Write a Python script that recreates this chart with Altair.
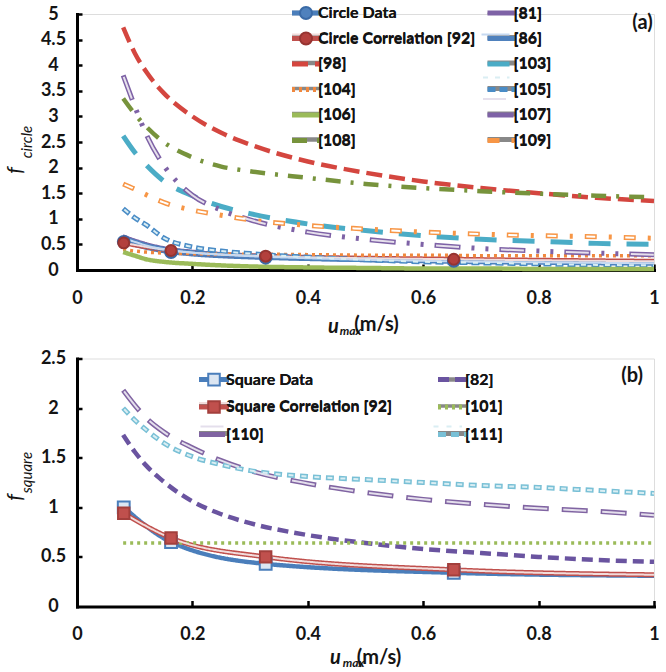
import altair as alt
import pandas as pd

FONT = "Lato"
INK = "#141414"

# ---------------- data ----------------
X_GRID = [0.08, 0.1, 0.12, 0.15, 0.2, 0.25, 0.3, 0.4, 0.5, 0.6, 0.7, 0.8, 0.9, 1.0]
X_EXP = [0.081, 0.163, 0.327, 0.653, 1.0]     # measured points (last = curve end, no marker)
N_MARKERS = 4

# panel (a)  f_circle
CIRCLE_DATA = [0.55, 0.35, 0.24, 0.18, 0.14]
CIRCLE_CORR = [0.53, 0.38, 0.27, 0.21, 0.17]
A_81 = [0.68, 0.60, 0.53, 0.45, 0.38, 0.33, 0.30, 0.26, 0.23, 0.21, 0.19, 0.18, 0.17, 0.16]
A_86 = [0.62, 0.55, 0.48, 0.41, 0.34, 0.30, 0.27, 0.23, 0.20, 0.18, 0.16, 0.15, 0.14, 0.13]
A_98 = [4.74, 4.24, 3.87, 3.46, 3.00, 2.68, 2.45, 2.12, 1.90, 1.73, 1.60, 1.50, 1.41, 1.35]
A_103 = [2.62, 2.30, 2.05, 1.74, 1.45, 1.24, 1.10, 0.90, 0.77, 0.67, 0.60, 0.56, 0.52, 0.50]
A_104 = [0.40, 0.37, 0.35, 0.33, 0.32, 0.31, 0.31, 0.30, 0.29, 0.29, 0.28, 0.28, 0.28, 0.28]
A_105 = [1.20, 1.02, 0.88, 0.63, 0.45, 0.37, 0.32, 0.25, 0.20, 0.16, 0.14, 0.12, 0.10, 0.09]
A_106 = [0.35, 0.28, 0.21, 0.16, 0.12, 0.09, 0.07, 0.05, 0.04, 0.03, 0.03, 0.02, 0.02, 0.02]
A_107 = [3.80, 3.20, 2.65, 2.05, 1.46, 1.17, 0.98, 0.74, 0.60, 0.50, 0.42, 0.37, 0.33, 0.30]
A_108 = [3.35, 3.05, 2.80, 2.50, 2.20, 2.02, 1.93, 1.80, 1.68, 1.60, 1.54, 1.49, 1.45, 1.42]
A_109 = [1.68, 1.58, 1.47, 1.32, 1.17, 1.07, 0.98, 0.87, 0.80, 0.74, 0.70, 0.67, 0.65, 0.62]

# panel (b)  f_square
SQUARE_DATA = [1.00, 0.65, 0.43, 0.34, 0.31]
SQUARE_CORR = [0.94, 0.69, 0.50, 0.37, 0.32]
B_82 = [1.73, 1.56, 1.42, 1.26, 1.06, 0.93, 0.84, 0.72, 0.64, 0.58, 0.54, 0.50, 0.47, 0.45]
B_101 = [0.64, 0.64, 0.64, 0.64, 0.64, 0.64, 0.64, 0.64, 0.64, 0.64, 0.64, 0.64, 0.64, 0.64]
B_110 = [2.18, 2.03, 1.90, 1.76, 1.60, 1.47, 1.37, 1.24, 1.15, 1.08, 1.03, 0.99, 0.96, 0.92]
B_111 = [2.00, 1.88, 1.78, 1.65, 1.51, 1.43, 1.37, 1.31, 1.28, 1.25, 1.22, 1.20, 1.17, 1.14]

A_LABELS = ["Circle Data", "[81]", "Circle Correlation [92]", "[86]", "[98]", "[103]",
            "[104]", "[105]", "[106]", "[107]", "[108]", "[109]"]
B_LABELS = ["Square Data", "[82]", "Square Correlation [92]", "[101]", "[110]", "[111]"]

X_TICKS = [0, 0.2, 0.4, 0.6, 0.8, 1.0]
A_YTICKS = [0, 0.5, 1, 1.5, 2, 2.5, 3, 3.5, 4, 4.5, 5]
B_YTICKS = [0, 0.5, 1, 1.5, 2, 2.5]

# ---------------- styles ----------------
STYLE = {
    "Circle Data":             {"color": "#4A7EBB", "w": 4.5, "dash": [1, 0]},
    "[81]":                    {"color": "#7E62A6", "w": 1.8, "dash": [1, 0]},
    "Circle Correlation [92]": {"color": "#C0504D", "w": 5.0, "dash": [1, 0]},
    "[86]":                    {"color": "#4F81BD", "w": 5.0, "dash": [1, 0]},
    "[98]":                    {"color": "#D4463F", "w": 4.5, "dash": [16, 7]},
    "[103]":                   {"color": "#4BACC6", "w": 5.0, "dash": [22, 16]},
    "[104]":                   {"color": "#F0883E", "w": 3.5, "dash": [3, 4]},
    "[105]":                   {"color": "#4A8CC6", "w": 5.0, "dash": [8, 4]},
    "[106]":                   {"color": "#9BBB59", "w": 4.5, "dash": [1, 0]},
    "[107]":                   {"color": "#7E62A6", "w": 5.0, "dash": [26, 11, 3, 11, 3, 11]},
    "[108]":                   {"color": "#77933C", "w": 4.5, "dash": [15, 10, 3, 10]},
    "[109]":                   {"color": "#F79646", "w": 5.0, "dash": [12, 12, 3, 12]},
    "Square Data":             {"color": "#4A7EBB", "w": 4.5, "dash": [1, 0]},
    "[82]":                    {"color": "#6A54A0", "w": 4.5, "dash": [11, 6]},
    "Square Correlation [92]": {"color": "#C0504D", "w": 5.0, "dash": [1, 0]},
    "[101]":                   {"color": "#9BBB59", "w": 3.5, "dash": [3, 4]},
    "[110]":                   {"color": "#8064A2", "w": 5.0, "dash": [26, 13]},
    "[111]":                   {"color": "#79C0D6", "w": 5.0, "dash": [8, 5]},
}
INNER = {
    "Circle Correlation [92]": "#F2DCDB",
    "[86]": "#C6D9F1",
    "[105]": "#DAEEF3",
    "[107]": "#E6E0EC",
    "[109]": "#FFFFFF",
    "Square Correlation [92]": "#F2DCDB",
    "[110]": "#E4DFEC",
    "[111]": "#DAEEF3",
}
IW = 2.0
INSET = (5.0 - IW) / 2
MARKERS = {
    "Circle Data": {"shape": "circle", "size": 140, "fill": "#4F81BD", "stroke": "#3A6AA6"},
    "Circle Correlation [92]": {"shape": "circle", "size": 120, "fill": "#B3403D", "stroke": "#963431"},
    "Square Data": {"shape": "square", "size": 140, "fill": "#DCE6F2", "stroke": "#4A7EBB"},
    "Square Correlation [92]": {"shape": "square", "size": 130, "fill": "#C0504D", "stroke": "#A33F3C"},
}
# legend glyphs (unit paths, scaled by sqrt(size)/2 = 5.5 px)
LEG_SIZE = 121
CIRCLE_PATH = "M1.09,0A1.09,1.09,0,1,1,-1.09,0A1.09,1.09,0,1,1,1.09,0Z"
SQUARE_PATH = "M-1.05,-1.05H1.05V1.05H-1.05Z"

W = 577


def line_path(length):
    h = round(length / 2 / 5.5, 3)
    return "M-%s,0H%s" % (h, h)


def inset_dash(dash, a):
    if dash == [1, 0]:
        return [1, 0]
    out = []
    for i in range(0, len(dash), 2):
        d, g = dash[i], dash[i + 1]
        d2 = max(d - 2 * a, 0)
        out += [round(d2, 2), round(d + g - d2, 2)]
    return out


def panel(P):
    labels = P["labels"]
    H = P["H"]
    curves = P["curves"]
    exp = P["exp"]

    rows = []
    for name in labels:
        if name in exp:
            xs_, ys_ = X_EXP, exp[name]
        else:
            xs_, ys_ = X_GRID, curves[name]
        for xv, yv in zip(xs_, ys_):
            rows.append({"series": name, "x": xv, "y": yv})
    df = pd.DataFrame(rows)

    prow = []
    for name in labels:
        if name in MARKERS:
            for xv, yv in zip(X_EXP[:N_MARKERS], exp[name][:N_MARKERS]):
                prow.append({"series": name, "x": xv, "y": yv})
    pts = pd.DataFrame(prow)

    xs = alt.Scale(domain=[0, 1], nice=False, zero=False)
    ys = alt.Scale(domain=[0, P["ymax"]], nice=False)

    x_main = alt.Axis(values=X_TICKS, format="~g", grid=False, ticks=False, tickSize=0,
                      domainColor="black", domainWidth=3, domainCap="square",
                      labelFont=FONT, labelFontSize=18, labelFontWeight="bold", labelColor=INK,
                      labelPadding=19, labelFlush=False, labelOverlap=False,
                      title="u", titleFont=FONT, titleFontSize=20, titleFontStyle="italic",
                      titleFontWeight="bold", titleColor=INK, titleAlign="center",
                      titleBaseline="alphabetic", titleX=P["u_x"], titleY=P["u_y"])
    y_main = alt.Axis(values=P["yticks"], format="~g", grid=False, ticks=False, tickSize=0,
                      domainColor="black", domainWidth=3, domainCap="square",
                      labelFont=FONT, labelFontSize=18, labelFontWeight="bold", labelColor=INK,
                      labelPadding=24, labelAlign="center", labelOverlap=False,
                      title="f", titleFont=FONT, titleFontSize=21, titleFontStyle="italic",
                      titleFontWeight="normal", titleColor=INK, titleAngle=270, titleAlign="center",
                      titleBaseline="alphabetic", titleX=-56, titleY=P["f_y"])
    x_hack = alt.Axis(orient="top", offset=-H, values=X_TICKS[1:], labels=False, domain=False,
                      grid=False, ticks=True, tickSize=6, tickWidth=2.5, tickColor="black",
                      title="max", titleFont=FONT, titleFontSize=12, titleFontStyle="italic",
                      titleFontWeight="bold", titleColor=INK, titleAlign="center",
                      titleBaseline="alphabetic", titleX=P["max_x"], titleY=P["max_y"])
    y_hack = alt.Axis(orient="right", offset=-W, values=P["yticks"][1:], labels=False, domain=False,
                      grid=False, ticks=True, tickSize=5, tickWidth=2.5, tickColor="black",
                      title=P["sub"], titleFont=FONT, titleFontSize=15, titleFontStyle="italic",
                      titleFontWeight="normal", titleColor=INK, titleAngle=270, titleAlign="center",
                      titleBaseline="alphabetic", titleX=-46, titleY=P["sub_y"])

    common = dict(orient="none", columns=2, direction="horizontal", title=None, padding=0,
                  symbolSize=LEG_SIZE, symbolType=line_path(P["sym"]), symbolStrokeWidth=5,
                  labelFont=FONT, labelFontSize=16, labelFontWeight="bold", labelColor=INK,
                  labelOffset=4, labelLimit=400, rowPadding=P["rowPad"], columnPadding=P["colPad"],
                  legendX=P["legX"], legendY=P["legY"], values=labels)

    # ---- outer strokes (carry the visible legend) ----
    outer_leg = alt.Legend(**common)
    outer = alt.Chart(df).mark_line(interpolate="monotone", clip=False).encode(
        x=alt.X("x:Q", scale=xs, axis=x_main),
        y=alt.Y("y:Q", scale=ys, axis=y_main),
        color=alt.Color("series:N", scale=alt.Scale(domain=labels, range=[STYLE[n]["color"] for n in labels]),
                        legend=outer_leg),
        strokeDash=alt.StrokeDash("series:N", scale=alt.Scale(domain=labels, range=[STYLE[n]["dash"] for n in labels]),
                                  legend=outer_leg),
        strokeWidth=alt.StrokeWidth("series:N", scale=alt.Scale(type="ordinal", domain=labels,
                                                                range=[STYLE[n]["w"] for n in labels]),
                                    legend=outer_leg),
    )

    # ---- light cores of the double lines ----
    dom2 = labels + [" "]
    inner_leg = alt.Legend(**{**common, "symbolStrokeWidth": IW}, labelOpacity=0, symbolDashOffset=-INSET)
    inner = alt.Chart(df).transform_filter(
        alt.FieldOneOfPredicate(field="series", oneOf=[n for n in labels if n in INNER])
    ).mark_line(interpolate="monotone", clip=False, strokeWidth=IW, strokeDashOffset=-INSET).encode(
        x=alt.X("x:Q", scale=xs, axis=None),
        y=alt.Y("y:Q", scale=ys, axis=None),
        stroke=alt.Stroke("series:N", scale=alt.Scale(domain=dom2, range=[INNER.get(n, "transparent") for n in labels] + ["transparent"]),
                          legend=inner_leg),
        strokeDash=alt.StrokeDash("series:N", scale=alt.Scale(domain=dom2, range=[inset_dash(STYLE[n]["dash"], INSET) for n in labels] + [[1, 0]]),
                                  legend=inner_leg),
    )

    # ---- markers ----
    pt_layers = []
    dom3 = labels + ["  "]
    for n in [k for k in labels if k in MARKERS]:
        m = MARKERS[n]
        pleg = alt.Legend(**{**common, "symbolType": P["glyph"], "symbolStrokeWidth": 2,
                             "legendX": P["legX"] + P["pt_shift"]}, labelOpacity=0)
        pt_layers.append(
            alt.Chart(pts).transform_filter(alt.datum.series == n).mark_point(
                filled=True, shape=m["shape"], size=m["size"], strokeWidth=2, opacity=1, clip=False).encode(
                x=alt.X("x:Q", scale=xs, axis=None),
                y=alt.Y("y:Q", scale=ys, axis=None),
                fill=alt.Fill("series:N", scale=alt.Scale(domain=dom3, range=[m["fill"] if k == n else "transparent" for k in labels] + ["transparent"]),
                              legend=pleg),
                stroke=alt.Stroke("series:N", scale=alt.Scale(domain=dom3, range=[m["stroke"] if k == n else "transparent" for k in labels] + ["transparent"]),
                                  legend=pleg)))

    tag = alt.Chart(pd.DataFrame({"x": [P["tag_x"]], "y": [P["tag_y"]], "t": [P["tag"]]})).mark_text(
        font=FONT, fontSize=20, fontWeight="bold", color=INK, align="center", baseline="middle",
        clip=False).encode(
        x=alt.X("x:Q", scale=xs, axis=x_hack),
        y=alt.Y("y:Q", scale=ys, axis=y_hack),
        text="t:N")

    return alt.layer(outer, inner, *pt_layers, tag).resolve_axis(
        x="independent", y="independent").resolve_scale(
        color="independent", strokeDash="independent", stroke="independent", fill="independent").properties(
        width=W, height=H,
        title=alt.TitleParams(text="(m/s)", orient="bottom", anchor="middle", frame="group",
                              baseline="alphabetic", offset=P["t_off"], dx=P["t_dx"],
                              font=FONT, fontSize=20, fontWeight="bold", color=INK))


PA = dict(labels=A_LABELS, H=256, ymax=5, yticks=A_YTICKS,
          curves={"[81]": A_81, "[86]": A_86, "[98]": A_98, "[103]": A_103, "[104]": A_104,
                  "[105]": A_105, "[106]": A_106, "[107]": A_107, "[108]": A_108, "[109]": A_109},
          exp={"Circle Data": CIRCLE_DATA, "Circle Correlation [92]": CIRCLE_CORR},
          sym=28, rowPad=5.5, colPad=1.5, legX=221, legY=-9, pt_shift=0, glyph=CIRCLE_PATH,
          tag="(a)", tag_x=0.98, tag_y=4.83, sub="circle", f_y=156, sub_y=127.5,
          u_x=256, u_y=62, max_x=273, max_y=64, t_off=-5, t_dx=11)
PB = dict(labels=B_LABELS, H=248, ymax=2.5, yticks=B_YTICKS,
          curves={"[82]": B_82, "[101]": B_101, "[110]": B_110, "[111]": B_111},
          exp={"Square Data": SQUARE_DATA, "Square Correlation [92]": SQUARE_CORR},
          sym=30, rowPad=7.5, colPad=36, legX=129, legY=13, pt_shift=0, glyph=SQUARE_PATH,
          tag="(b)", tag_x=0.962, tag_y=2.32, sub="square", f_y=138.5, sub_y=113.5,
          u_x=258, u_y=57, max_x=276, max_y=60, t_off=-5, t_dx=13.5)

chart = alt.vconcat(panel(PA), panel(PB), spacing=11.5).resolve_scale(
    color="independent", strokeDash="independent", stroke="independent", fill="independent",
    strokeWidth="independent"
).properties(
    padding={"left": 3, "top": 4, "right": 0, "bottom": 0}
).configure_view(stroke="transparent").configure(background="white")

chart.save("out.html", embed_options={"renderer": "svg", "actions": False})
